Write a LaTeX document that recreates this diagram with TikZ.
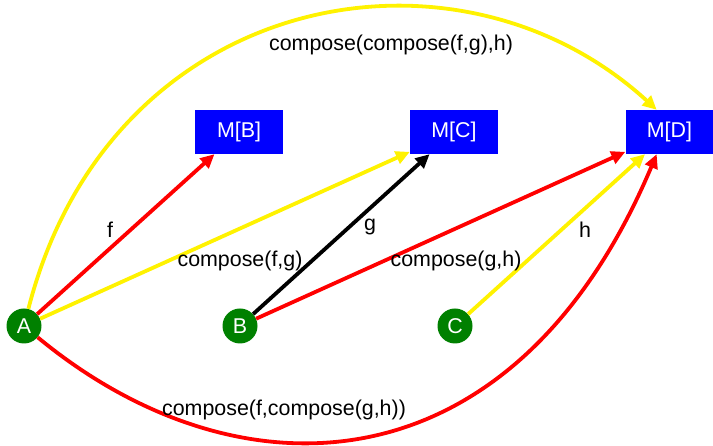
\documentclass[tikz,border=0pt]{standalone}
\usepackage{fontspec}
\setmainfont{Liberation Sans}
\usetikzlibrary{arrows.meta}
\definecolor{nodegreen}{RGB}{0,128,0}
\begin{document}
\begin{tikzpicture}[x=1pt,y=1pt,
  font=\fontsize{21.4}{25}\selectfont,
  obj/.style={circle,fill=nodegreen,text=white,minimum size=35pt,inner sep=0pt},
  box/.style={rectangle,fill=blue,text=white,minimum width=88pt,minimum height=44pt,inner sep=0pt},
  arr/.style={line width=3.8pt,-{Triangle[length=14pt,width=13pt]}},
  lbl/.style={text=black,inner sep=1pt}]
\useasboundingbox (0,0) rectangle (713,446);

% objects
\node[obj] (A) at (24,120) {A};
\node[obj] (B) at (240,120) {B};
\node[obj] (C) at (455,120) {C};

% images
\node[box] (MB) at (239,314) {M[B]};
\node[box] (MC) at (454,314) {M[C]};
\node[box] (MD) at (669.5,314) {M[D]};

% morphisms
\draw[arr,red] (A) -- (MB);
\draw[arr,yellow] (A) -- (MC);
\draw[arr,black] (B) -- (MC);
\draw[arr,red] (B) -- (MD);
\draw[arr,yellow] (C) -- (MD);

% composites
\coordinate (t1) at (110,456);
\coordinate (t2) at (456,520);
\draw[arr,yellow] (A) .. controls (t1) and (t2) .. (MD.120);
\coordinate (b1) at (238,-57);
\coordinate (b2) at (513,-49);
\draw[arr,red] (A) .. controls (b1) and (b2) .. (MD.240);

% labels
\node[lbl] (lf) at (110,216) {f};
\node[lbl] (lfg) at (240,185) {compose(f,g)};
\node[lbl] (lg) at (370,219) {g};
\node[lbl] (lgh) at (456,185) {compose(g,h)};
\node[lbl] (lh) at (585,216) {h};
\node[lbl] (ltop) at (391,401) {compose(compose(f,g),h)};
\node[lbl] (lbot) at (284,36) {compose(f,compose(g,h))};
\end{tikzpicture}
\end{document}
